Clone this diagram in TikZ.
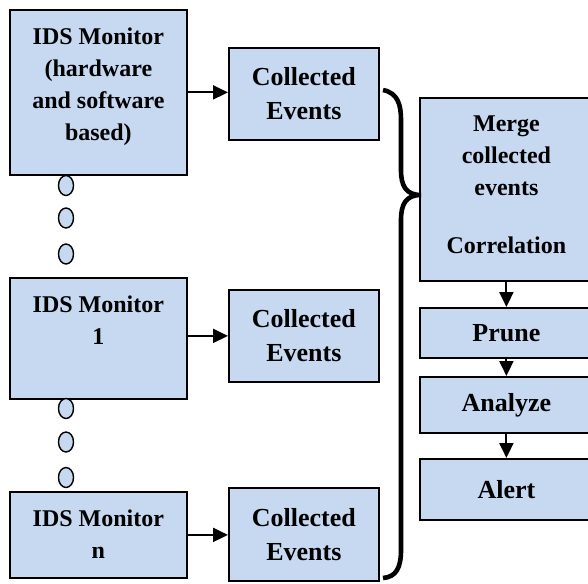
\documentclass[tikz,border=0pt]{standalone}
\usepackage{fontspec}
\setmainfont{Liberation Serif}
\usetikzlibrary{arrows.meta,shapes.geometric}
\definecolor{boxblue}{RGB}{198,217,241}

\begin{document}
\begin{tikzpicture}[x=0.5pt,y=-0.5pt,
  box/.style={draw,fill=boxblue,line width=0.9pt,anchor=north west,inner sep=0,align=center},
  monitor/.style={box,minimum width=88.5pt},
  montext/.style={anchor=north,align=center,inner sep=9pt,font=\fontsize{12}{16}\selectfont\bfseries},
  events/.style={box,minimum width=75pt,font=\fontsize{13}{17}\selectfont\bfseries},
  stage/.style={box,minimum width=86.5pt,font=\fontsize{13}{17}\selectfont\bfseries},
  dot/.style={ellipse,draw,fill=boxblue,line width=0.7pt,minimum width=7.5pt,minimum height=10pt,inner sep=0},
  arr/.style={-{Triangle[length=7.5pt,width=7pt]},line width=1pt}]

\useasboundingbox (0,0) rectangle (588,583);

% Nodes
\node[monitor,minimum height=82.5pt,label={[montext]north:IDS Monitor\\(hardware\\and software\\based)}] (m0) at (9,9) {};
\node[monitor,minimum height=60.5pt,label={[montext]north:IDS Monitor\\1}] (m1) at (9,277) {};
\node[monitor,minimum height=43pt,label={[montext]north:IDS Monitor\\n}] (m2) at (9,491) {};

\node[events,minimum height=46pt] (c0) at (228,47) {Collected\\Events};
\node[events,minimum height=46pt] (c1) at (228,289) {Collected\\Events};
\node[events,minimum height=46.5pt] (c2) at (228,487) {Collected\\Events};

\node[stage,minimum height=91.5pt,label={[montext]north:Merge\\collected\\events\\[13pt]Correlation}] (merge) at (419,97) {};
\node[stage,minimum height=25pt] (prune) at (419,307) {Prune};
\node[stage,minimum height=28pt] (analyze) at (419,376) {Analyze};
\node[stage,minimum height=30.5pt] (alert) at (419,458) {Alert};

% dots between monitors
\foreach \y [count=\i] in {185.5,218,254,408.5,442,477.5}
  \node[dot] (d\i) at (66,\y) {};

%arcs
\draw[arr] (m0.east) -- (m0.east -| c0.west);
\draw[arr] (c1.west -| m1.east) -- (c1.west);
\draw[arr] (m2.east) -- (m2.east -| c2.west);
\draw[arr] (merge.south) -- (prune.north);
\draw[arr] (prune.south) -- (analyze.north);
\draw[arr] (analyze.south) -- (alert.north);

% brace
\draw[line width=2.3pt] (383,90) .. controls (398,93) and (401,105) .. (401,120) -- (401,170)
  .. controls (401,186) and (406,195) .. (421,195)
  .. controls (406,195) and (401,204) .. (401,220) -- (401,550)
  .. controls (401,568) and (396,577) .. (383,578);

\end{tikzpicture}
\end{document}
